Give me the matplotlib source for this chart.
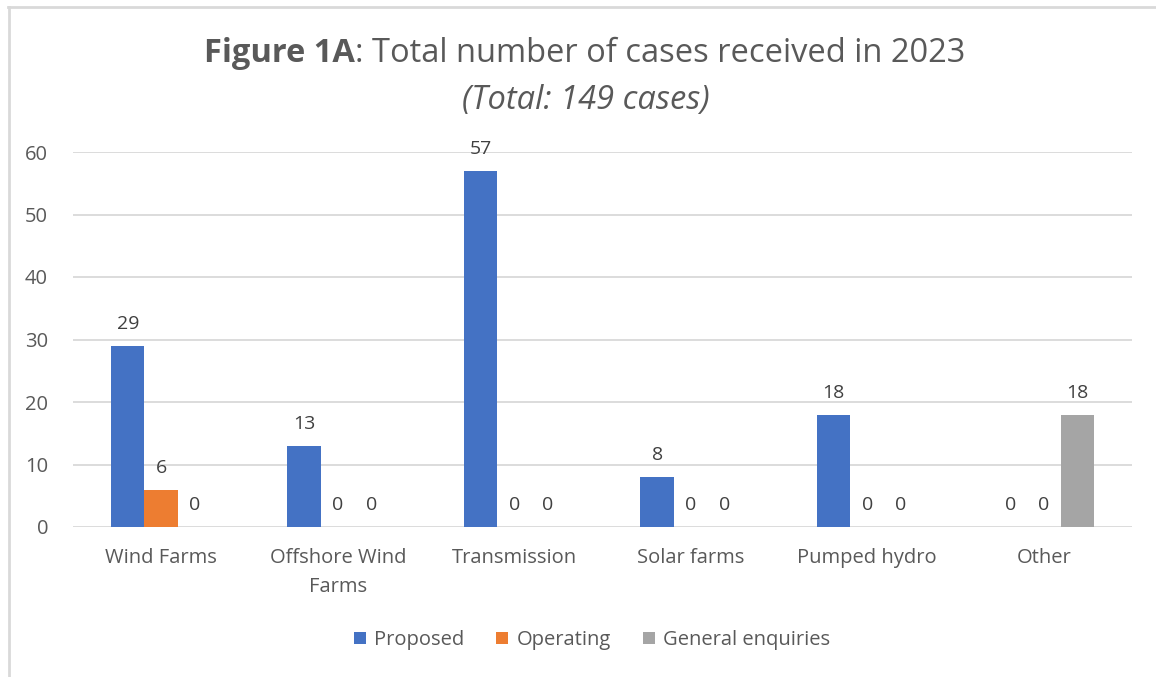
import matplotlib
matplotlib.use("Agg")
import matplotlib.pyplot as plt
import numpy as np
from matplotlib.lines import Line2D

categories = ["Wind Farms", "Offshore Wind\nFarms", "Transmission", "Solar farms", "Pumped hydro", "Other"]
proposed = [29, 13, 57, 8, 18, 0]
operating = [6, 0, 0, 0, 0, 0]
general = [0, 0, 0, 0, 0, 18]
series_names = ["Proposed", "Operating", "General enquiries"]
colors = ["#4472C4", "#ED7D31", "#A5A5A5"]
yticks = [0, 10, 20, 30, 40, 50, 60]

FONT = "Open Sans"
TXT = "#595959"
W, H = 1156, 677
fig = plt.figure(figsize=(W/100, H/100), dpi=100)
ax = fig.add_axes([73/W, 1-527/H, (1132-73)/W, (527-152)/H])

x = np.arange(len(categories))
bw = 0.19
for i, (vals, name, c) in enumerate(zip([proposed, operating, general], series_names, colors)):
    pos = x + (i-1)*bw
    ax.bar(pos, vals, bw, color=c, label=name, zorder=3)
    for p, v in zip(pos, vals):
        ax.annotate(str(v), (p, v), xytext=(0, 9), textcoords="offset points",
                    ha="center", va="bottom", fontsize=14, color="#404040", family=FONT)

ax.set_xlim(-0.5, len(categories)-0.5)
ax.set_ylim(0, 60)
ax.set_yticks(yticks)
ax.set_xticks(x)
ax.set_xticklabels(categories, fontsize=14.5, color=TXT, family=FONT, linespacing=1.6)
ax.set_yticklabels([str(t) for t in yticks], fontsize=14.5, color=TXT, family=FONT)
ax.tick_params(length=0)
ax.tick_params(axis="y", pad=18)
ax.tick_params(axis="x", pad=15)
ax.grid(axis="y", color="#D9D9D9", linewidth=1.3, zorder=0)
for s in ax.spines.values():
    s.set_visible(False)

# Title built from a bold part and a regular part, centred together
fig.canvas.draw()
r = fig.canvas.get_renderer()
t1 = fig.text(0, 1-53/H, "Figure 1A", ha="left", va="center", fontsize=23.5,
              fontweight="bold", color=TXT, family=FONT)
t2 = fig.text(0, 1-53/H, ": Total number of cases received in 2023", ha="left", va="center",
              fontsize=23.5, color=TXT, family=FONT)
w1 = t1.get_window_extent(r).width
w2 = t2.get_window_extent(r).width
x0 = (W - (w1 + w2)) / 2 + 7
t1.set_x(x0 / W)
t2.set_x((x0 + w1) / W)
fig.text(586/W, 1-100/H, "(Total: 149 cases)", ha="center", va="center",
         fontsize=23.5, style="italic", color=TXT, family=FONT)

leg = fig.legend(loc="center", bbox_to_anchor=(592/W, 1-640/H), ncol=3, frameon=False,
                 handlelength=0.6, handleheight=0.6, handletextpad=0.4, columnspacing=1.6,
                 prop={"family": FONT, "size": 14.5})
for t in leg.get_texts():
    t.set_color(TXT)

fig.add_artist(Line2D([8/W, 1.0], [1-7/H, 1-7/H], color="#D9D9D9", linewidth=2, transform=fig.transFigure))
fig.add_artist(Line2D([9/W, 9/W], [0, 1-7/H], color="#D9D9D9", linewidth=2, transform=fig.transFigure))

fig.savefig("out.png", dpi=100)
